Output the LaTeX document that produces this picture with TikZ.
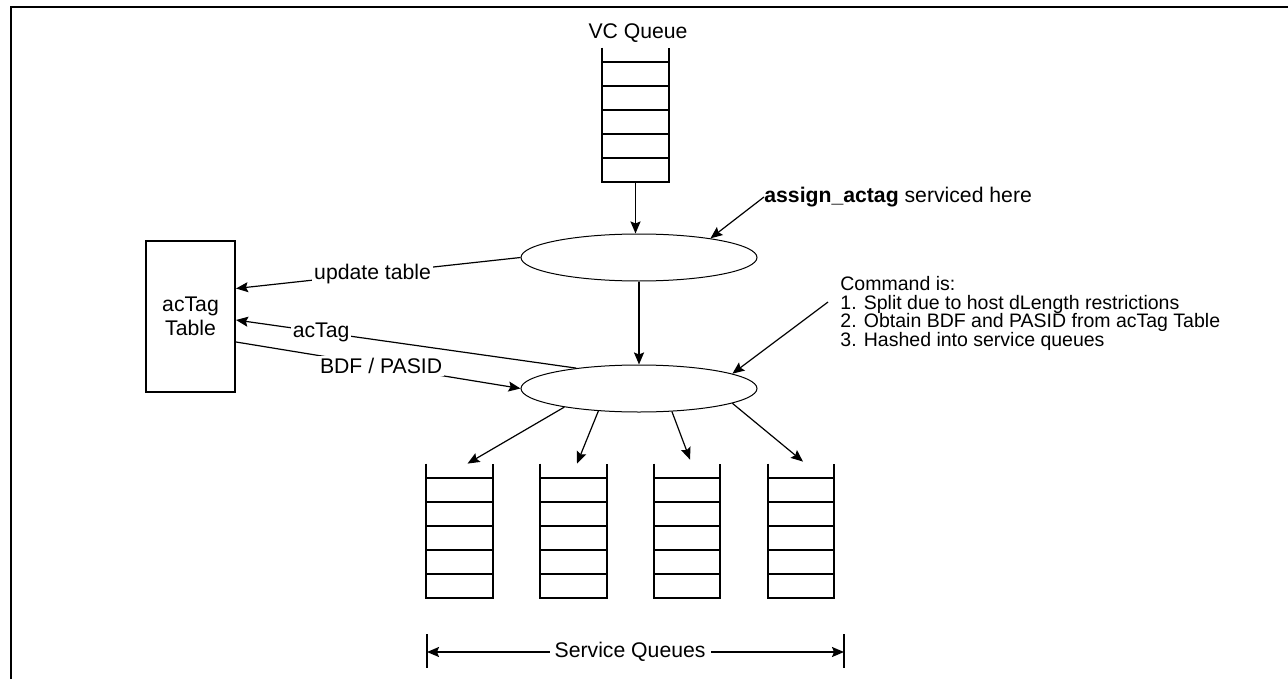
\documentclass[tikz,border=0pt]{standalone}
\usepackage{fontspec}
\setmainfont{Liberation Sans}
\usetikzlibrary{shapes.geometric,arrows.meta,positioning,calc}

\begin{document}
\begin{tikzpicture}[x=0.5pt,y=-0.5pt,
  every node/.style={font=\fontsize{10.6}{12}\selectfont},
  fifo/.style={minimum width=33pt, minimum height=67pt, inner sep=0pt},
  qline/.style={line width=1pt},
  proc/.style={ellipse, draw, line width=0.5pt, minimum width=118pt,
               minimum height=23.5pt, inner sep=0pt},
  tblbox/.style={draw, line width=1pt, minimum width=44.5pt,
                 minimum height=75.5pt, align=center},
  flow/.style={-{Stealth[length=6pt,width=5pt,inset=1pt]}, line width=0.6pt},
  vflow/.style={flow, line width=0.9pt},
  lbl/.style={fill=white, inner sep=1pt}
]
  \useasboundingbox (0,0) rectangle (1288,679);
  \draw[line width=1pt] (11,679) -- (11,7.5) -- (1288,7.5);

  % queues
  \node[fifo] (vcq) at (635.5,115) {};
  \node (vclbl) at (638,33) {VC Queue};
  \node[fifo] (sq1) at (459.5,531) {};
  \node[fifo] (sq2) at (573.5,531) {};
  \node[fifo] (sq3) at (687,531) {};
  \node[fifo] (sq4) at (801,531) {};
  \foreach \q in {vcq,sq1,sq2,sq3,sq4} {
    \draw[qline] (\q.north west) -- (\q.south west) -- (\q.south east) -- (\q.north east);
    \foreach \d in {7,19,31,43,55}
      \draw[qline] ([yshift=-\d pt]\q.north west) -- ([yshift=-\d pt]\q.north east);
  }

  % processing stages
  \node[proc] (e1) at (639,257.5) {};
  \node[proc] (e2) at (639,388.5) {};
  \node[tblbox] (tbl) at (190.5,316.5) {acTag\\Table};

  \node[inner sep=0pt, anchor=west] (asg) at (764,197) {\textbf{assign\_actag} serviced here};
  \node[inner sep=0pt, anchor=north west, align=left,
        font=\fontsize{9.75}{9.3}\selectfont] (cmd) at (840,276)
    {Command is:\\1. Split due to host dLength restrictions\\2. Obtain BDF and PASID from acTag Table\\3. Hashed into service queues};
  \coordinate (cmdtail) at (828,302);

  \draw[vflow] (vcq.south) -- (vcq.south |- e1.north);
  \draw[vflow] (e1.south) -- (e1.south |- e2.north);
  \draw[flow] (asg.west) -- (e1.15);
  \draw[flow] (cmdtail) -- (e2.9);

  \draw[flow] (e1.west) -- node[lbl, pos=0.52] {update table} ([yshift=14pt]tbl.east);
  \draw[flow] (e2.162) -- node[lbl, pos=0.75] {acTag} ([yshift=-1.75pt]tbl.east);
  \draw[flow] ([yshift=-12.75pt]tbl.east) -- node[lbl, pos=0.51] {BDF / PASID} (e2.west);

  \draw[flow] (e2.194) -- ([xshift=4pt]sq1.north);
  \draw[flow] (e2.209) -- ([xshift=1.75pt]sq2.north);
  \draw[flow] (e2.325) -- ([xshift=1.5pt,yshift=2pt]sq3.north);
  \draw[flow] (e2.351) -- ([xshift=1pt,yshift=1pt]sq4.north);

  % service queue span
  \coordinate (spanL) at (427,652);
  \coordinate (spanR) at (844,652);
  \draw[line width=0.6pt] ([yshift=9pt]spanL) -- ([yshift=-8pt]spanL);
  \draw[line width=0.6pt] ([yshift=9pt]spanR) -- ([yshift=-8pt]spanR);
  \draw[{Stealth[length=6pt,width=5pt,inset=1pt]}-{Stealth[length=6pt,width=5pt,inset=1pt]}, line width=0.8pt]
    (spanL) -- node[lbl, inner sep=2.5pt, pos=0.487] {Service Queues} (spanR);
\end{tikzpicture}
\end{document}
